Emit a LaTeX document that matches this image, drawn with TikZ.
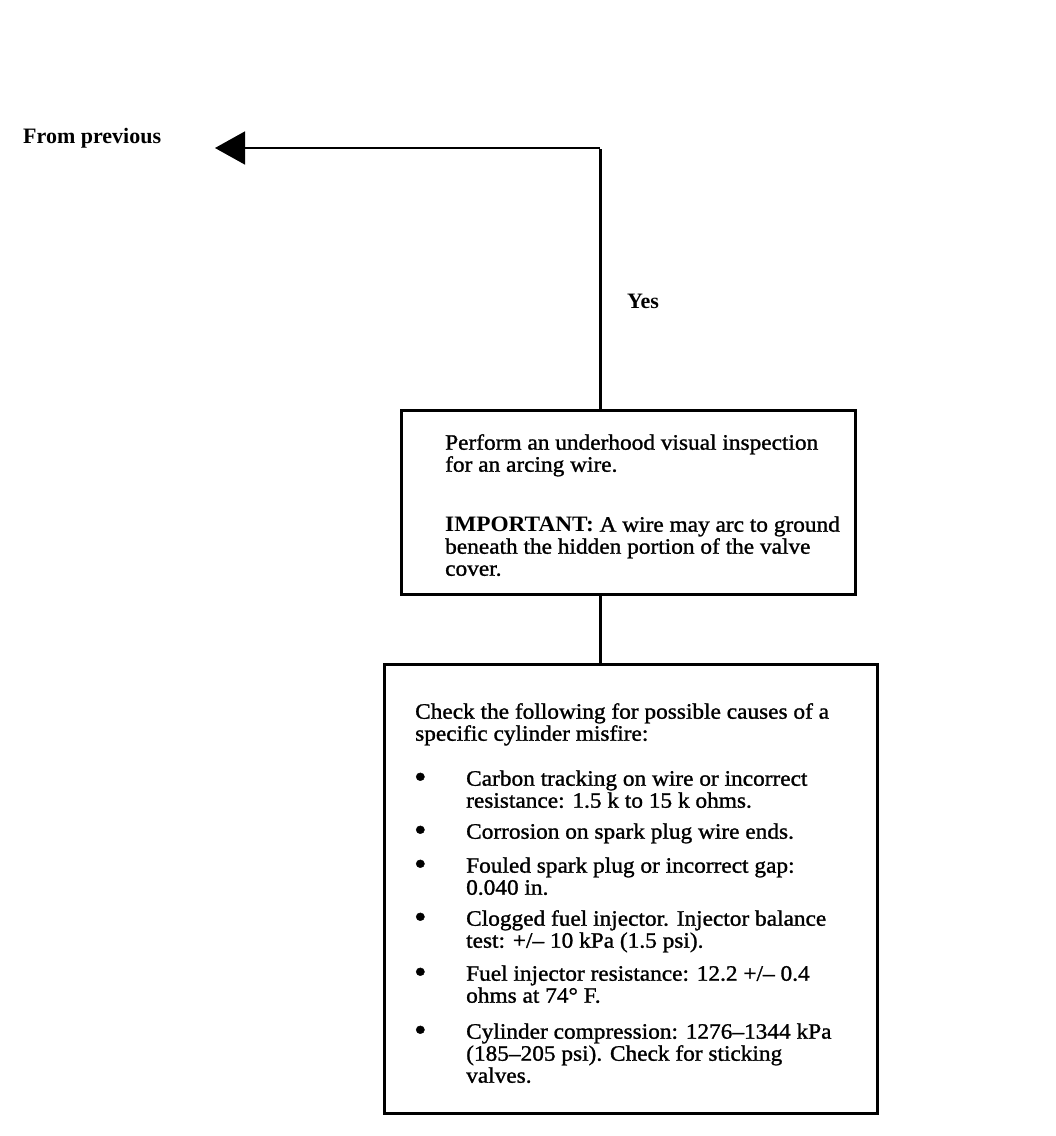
\documentclass[tikz,border=0pt]{standalone}
\usepackage{fontspec}
\setmainfont{Liberation Serif}[FakeStretch=1.06,UprightFeatures={FakeBold=1.2}]
\newfontfamily\lblfont{Liberation Serif}
\usetikzlibrary{arrows.meta}
\newcommand\bulletmark{\makebox[51pt][l]{\hspace{-1pt}\raisebox{-2pt}{\fontsize{33}{22}\selectfont\textbullet}}}
\newcommand\hangpad{\hspace*{51pt}}
\begin{document}
\begin{tikzpicture}[x=1pt,y=-1pt]
    % --- styles ---
    \tikzset{box/.style={draw,line width=2.8pt,inner sep=0pt,anchor=north west},
             txt/.style={anchor=north west,inner sep=0pt,align=left,font=\fontsize{22}{22}\selectfont},
             lbl/.style={anchor=base west,inner sep=0pt,font=\fontsize{22}{22}\lblfont\bfseries},
             conn/.style={line width=3pt},
             back/.style={line width=1.6pt,-{Triangle[length=30pt,width=33pt]}}}

    \useasboundingbox (0,0) rectangle (1056,1136);

    % labels
    \node[lbl] (prev) at (23,143) {From previous};
    \node[lbl] (yes) at (627,308) {Yes};
    \coordinate (tip) at (215,148);
    \coordinate (trunk) at (600,148);

    % boxes
    \node[box,minimum width=454pt,minimum height=184pt] (insp) at (400,409) {};
    \node[box,minimum width=493pt,minimum height=449pt] (check) at (383,663) {};

    % box texts
    \node[txt] (insptxt) at (445,434) {Perform an underhood visual inspection\\
      for an arcing wire.\\[38pt]
      \textbf{IMPORTANT:} A wire may arc to ground\\
      beneath the hidden portion of the valve\\
      cover.};
    \node[txt] (checktxt) at (415,703) {Check the following for possible causes of a\\
      specific cylinder misfire:\\[23pt]
      \bulletmark Carbon tracking on wire or incorrect\\
      \hangpad resistance: 1.5 k to 15 k ohms.\\[9pt]
      \bulletmark Corrosion on spark plug wire ends.\\[12pt]
      \bulletmark Fouled spark plug or incorrect gap:\\
      \hangpad 0.040 in.\\[9pt]
      \bulletmark Clogged fuel injector. Injector balance\\
      \hangpad test: +/-- 10 kPa (1.5 psi).\\[11pt]
      \bulletmark Fuel injector resistance: 12.2 +/-- 0.4\\
      \hangpad ohms at 74° F.\\[14pt]
      \bulletmark Cylinder compression: 1276--1344 kPa\\
      \hangpad (185--205 psi). Check for sticking\\
      \hangpad valves.};

    % connectors
    \draw[conn] (trunk |- insp.north) -- ([yshift=-0.8pt]trunk);
    \draw[back] (trunk) -- (tip);
    \draw[conn] (trunk |- insp.south) -- (trunk |- check.north);
\end{tikzpicture}
\end{document}
